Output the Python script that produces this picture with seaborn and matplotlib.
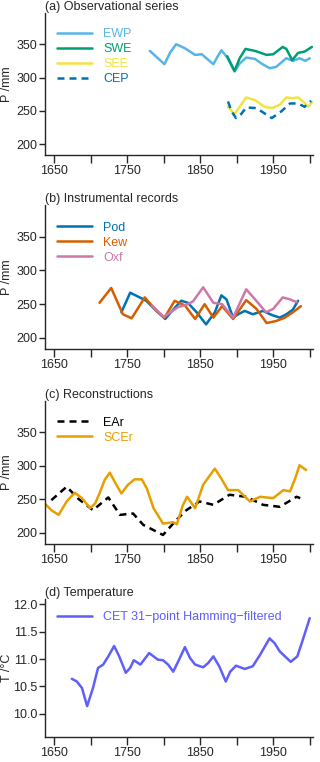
import numpy as np
import pandas as pd
import matplotlib
matplotlib.use("Agg")
import matplotlib.pyplot as plt
import seaborn as sns

sns.set_style("ticks")
plt.rcParams['font.family'] = ['Liberation Sans', 'DejaVu Sans']
plt.rcParams['font.size'] = 9

# (a) observational series
ewp_yr = [1781, 1791, 1801, 1809, 1817, 1829, 1843, 1852, 1868, 1874, 1879, 1887, 1897,
          1904, 1913, 1925, 1934, 1945, 1954, 1968, 1977, 1986, 1994, 2000]
ewp_p = [340, 330, 320, 338, 350, 344, 334, 335, 320, 332, 341, 330, 309,
         321, 330, 328, 321, 314, 316, 329, 325, 329, 325, 329]
swe_yr = [1887, 1897, 1904, 1912, 1925, 1941, 1950, 1963, 1968, 1976, 1984, 1993, 2003]
swe_p = [332, 310, 329, 343, 340, 334, 335, 346, 343, 326, 337, 339, 346]
see_yr = [1888, 1897, 1904, 1913, 1925, 1938, 1948, 1959, 1968, 1977, 1984, 1991, 1998, 2003]
see_p = [256, 245, 256, 270, 266, 256, 254, 259, 270, 269, 270, 264, 256, 263]
cep_yr = [1888, 1893, 1899, 1906, 1913, 1927, 1941, 1948, 1961, 1973, 1984, 1993, 2002]
cep_p = [264, 249, 239, 245, 255, 254, 244, 239, 249, 261, 261, 256, 265]

# (b) instrumental records
pod_yr = [1742, 1754, 1767, 1776, 1790, 1802, 1813, 1824, 1833, 1845, 1858, 1870,
          1879, 1886, 1895, 1902, 1911, 1922, 1936, 1948, 1959, 1968, 1977, 1984]
pod_p = [238, 267, 260, 255, 240, 228, 242, 255, 252, 238, 220, 238,
         263, 257, 230, 235, 240, 235, 240, 234, 230, 235, 242, 255]
kew_yr = [1712, 1728, 1744, 1756, 1774, 1790, 1801, 1815, 1829, 1843, 1856, 1868,
          1880, 1895, 1913, 1927, 1941, 1954, 1966, 1977, 1988]
kew_p = [252, 274, 235, 229, 260, 240, 230, 255, 248, 228, 250, 230,
         247, 228, 256, 243, 222, 225, 230, 238, 247]
oxf_yr = [1784, 1800, 1820, 1829, 1840, 1854, 1868, 1880, 1895, 1913, 1926, 1940,
          1950, 1963, 1973, 1982]
oxf_p = [248, 231, 246, 248, 254, 275, 252, 250, 230, 272, 256, 238,
         243, 260, 257, 253]

# (c) reconstructions
ear_yr = [1646, 1667, 1683, 1703, 1724, 1740, 1758, 1772, 1799, 1817, 1831, 1849,
          1868, 1890, 1913, 1936, 1959, 1982, 1987]
ear_p = [249, 269, 251, 234, 253, 227, 229, 212, 197, 219, 234, 247,
         242, 257, 254, 242, 239, 254, 252]
scer_yr = [1637, 1646, 1656, 1667, 1678, 1688, 1699, 1706, 1712, 1719, 1726, 1735,
           1742, 1751, 1760, 1770, 1777, 1786, 1799, 1813, 1818, 1826, 1832, 1843,
           1854, 1870, 1879, 1888, 1902, 1918, 1932, 1950, 1964, 1973, 1980, 1986, 1995]
scer_p = [244, 234, 227, 247, 260, 252, 237, 244, 259, 279, 290, 272,
          259, 272, 280, 280, 266, 237, 214, 216, 213, 241, 254, 237,
          272, 296, 281, 264, 264, 247, 254, 252, 264, 262, 281, 301, 294]

# (d) temperature
cet_yr = [1674, 1681, 1688, 1695, 1703, 1710, 1717, 1724, 1732, 1739, 1748, 1754,
          1759, 1768, 1780, 1792, 1799, 1806, 1813, 1821, 1829, 1836, 1843, 1854,
          1861, 1868, 1876, 1885, 1891, 1899, 1911, 1922, 1932, 1945, 1952, 1959,
          1974, 1983, 1989, 1995, 2000]
cet_t = [10.64, 10.59, 10.47, 10.14, 10.47, 10.84, 10.90, 11.05, 11.24, 11.05, 10.75, 10.84,
         10.98, 10.90, 11.11, 10.99, 10.98, 10.90, 10.77, 10.99, 11.22, 11.02, 10.90, 10.85,
         10.93, 11.05, 10.87, 10.59, 10.77, 10.88, 10.82, 10.87, 11.08, 11.38, 11.29, 11.14,
         10.95, 11.05, 11.29, 11.54, 11.75]

xticks = [1650, 1700, 1750, 1800, 1850, 1900, 1950, 2000]
xticklabels = ['1650', '', '1750', '', '1850', '', '1950', '']
dash = (0, (2.8, 2.0))
LW = 1.8

W, H = 320, 762
fig = plt.figure(figsize=(W / 100, H / 100), dpi=100)


def make_ax(top, bottom):
    return fig.add_axes([45 / W, 1 - bottom / H, 268 / W, (bottom - top) / H])


panels = [
    (make_ax(13, 155), '(a) Observational series', 0.895, [
        ('EWP', ewp_yr, ewp_p, '#56B4E9', '-'),
        ('SWE', swe_yr, swe_p, '#009E73', '-'),
        ('SEE', see_yr, see_p, '#F0E442', '-'),
        ('CEP', cep_yr, cep_p, '#0072B2', dash),
    ]),
    (make_ax(205, 349), '(b) Instrumental records', 0.885, [
        ('Pod', pod_yr, pod_p, '#0072B2', '-'),
        ('Kew', kew_yr, kew_p, '#D55E00', '-'),
        ('Oxf', oxf_yr, oxf_p, '#CC79A7', '-'),
    ]),
    (make_ax(401, 544), '(c) Reconstructions', 0.89, [
        ('EAr', ear_yr, ear_p, 'black', dash),
        ('SCEr', scer_yr, scer_p, '#E69F00', '-'),
    ]),
    (make_ax(599, 737), '(d) Temperature', 0.91, [
        ('CET 31\u2212point Hamming\u2212filtered', cet_yr, cet_t, '#5F5FFA', '-'),
    ]),
]

for i, (ax, title, leg_y, series) in enumerate(panels):
    for name, xs, ys, col, ls in series:
        df = pd.DataFrame({'year': xs, 'val': ys})
        sns.lineplot(data=df, x='year', y='val', ax=ax, color=col, linestyle=ls,
                     linewidth=LW, label=name)
    ax.set_xlim(1637.3, 2004.5)
    ax.set_xticks(xticks)
    ax.set_xticklabels(xticklabels)
    if i < 3:
        ax.set_ylim(183.5, 397)
        ax.set_yticks([200, 250, 300, 350])
        ax.set_ylabel('P /mm')
    else:
        ax.set_ylim(9.575, 12.1)
        ax.set_yticks([10.0, 10.5, 11.0, 11.5, 12.0])
        ax.set_yticklabels(['10.0', '10.5', '11.0', '11.5', '12.0'])
        ax.set_ylabel('T /\u00b0C')
    ax.yaxis.set_label_coords(-0.118, 0.5)
    ax.set_xlabel('')
    sns.despine(ax=ax)
    ax.tick_params(axis='x', length=5.5, width=1, pad=2, labelsize=9)
    ax.tick_params(axis='y', length=4.5, width=1, pad=1, labelsize=9)
    for s in ['left', 'bottom']:
        ax.spines[s].set_linewidth(1)
    ax.text(0, 1.0, title, transform=ax.transAxes, ha='left', va='bottom', fontsize=9)
    ax.legend(loc='upper left', bbox_to_anchor=(0.045, leg_y), frameon=False,
              labelcolor='linecolor', handlelength=2.8, handletextpad=0.9,
              labelspacing=0.25, borderpad=0, borderaxespad=0, fontsize=9)

fig.savefig('out.png', dpi=100, facecolor='white')
